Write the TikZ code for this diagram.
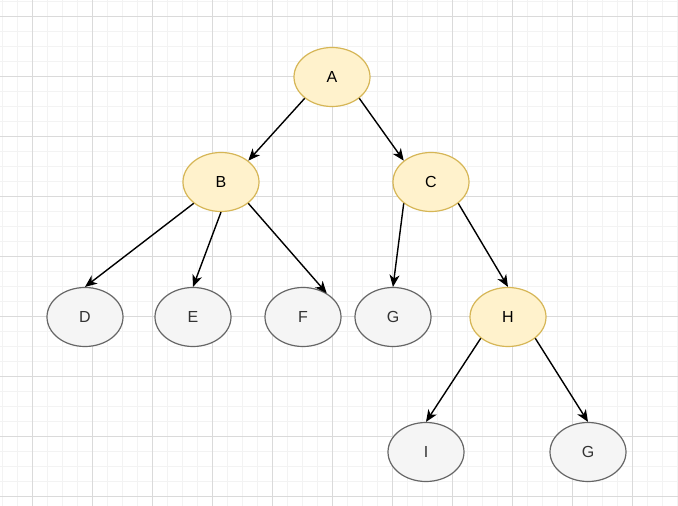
\documentclass[tikz,border=0pt]{standalone}
\usepackage{fontspec}
\setmainfont{Liberation Sans}
\usepackage{tikz}
\usetikzlibrary{arrows.meta,shapes.geometric}

\definecolor{hotfill}{HTML}{FFF2CC}
\definecolor{hotline}{HTML}{D6B656}
\definecolor{leaffill}{HTML}{F5F5F5}
\definecolor{leafline}{HTML}{666666}
\definecolor{leaftext}{HTML}{333333}
\definecolor{gridminor}{HTML}{F3F3F3}
\definecolor{gridmajor}{HTML}{DADADA}

\begin{document}
\begin{tikzpicture}[x=1pt,y=-1pt,
    unit/.style={draw,ellipse,line width=1.2pt,minimum width=76pt,minimum height=59pt,inner sep=0pt,
        font=\fontsize{16}{19}\selectfont},
    inner/.style={unit,fill=hotfill,draw=hotline,text=black},
    leaf/.style={unit,fill=leaffill,draw=leafline,text=leaftext},
    link/.style={-{Stealth[length=12pt,width=10pt,inset=3.5pt]},line width=1.4pt}]
\useasboundingbox (0,0) rectangle (678,506);
\fill[white] (0,0) rectangle (678,506);
% grid
\foreach \x in {2,17,...,677} \draw[gridminor,line width=1pt] (\x,0) -- (\x,506);
\foreach \y in {1,16,...,506} \draw[gridminor,line width=1pt] (0,\y) -- (678,\y);
\foreach \x in {32,92,...,632} \draw[gridmajor,line width=1pt] (\x,0) -- (\x,506);
\foreach \y in {16,76,...,496} \draw[gridmajor,line width=1pt] (0,\y) -- (678,\y);
% tree
\node[inner] (A) at (332,77) {A};
\node[inner] (B) at (221,182) {B};
\node[inner] (C) at (431,182) {C};
\node[leaf] (D) at (85,317) {D};
\node[leaf] (E) at (193,317) {E};
\node[leaf] (F) at (303,317) {F};
\node[leaf] (G) at (393,317) {G};
\node[inner] (H) at (508,317) {H};
\node[leaf] (I) at (426,452) {I};
\node[leaf] (G2) at (588,452) {G};
    \path (A.-142) edge[link] (B.38);
    \path (A.-38) edge[link] (C.142);
    \path (B.-142) edge[link] (D.north);
    \path (B.south) edge[link] (E.north);
    \path (B.-38) edge[link] (F.45);
    \path (C.-142) edge[link] (G.north);
    \path (C.-38) edge[link] (H.north);
    \path (H.-142) edge[link] (I.north);
    \path (H.-38) edge[link] (G2.north);
\end{tikzpicture}
\end{document}
